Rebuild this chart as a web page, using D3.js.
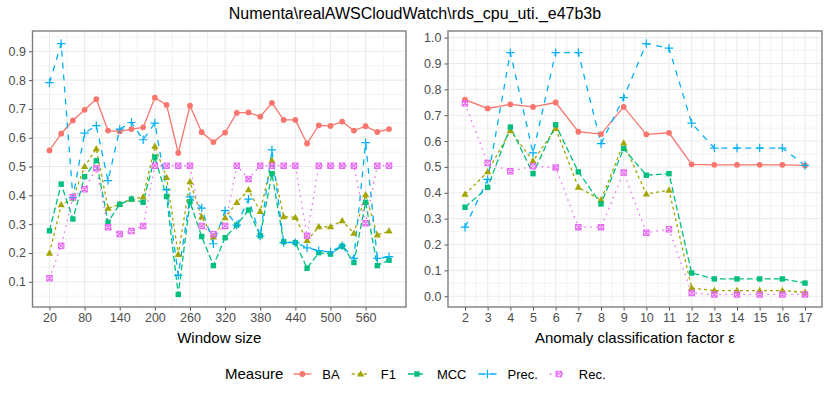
<!DOCTYPE html>
<html lang="en">
<head>
  <meta charset="UTF-8">
  <title>rds_cpu_uti._e47b3b</title>
  <script src="https://d3js.org/d3.v7.min.js"></script>
  <style>
    body { margin: 0; background: #fff; }
    svg { font-family: "Liberation Sans", Arial, sans-serif; }
    .tick-label { fill: #4d4d4d; font-size: 12.5px; }
    .axis-title { fill: #000; font-size: 15px; }
  </style>
</head>
<body>
  <div id="chart"></div>
  <script>
    const width = 830;
    const height = 394;

    // measures (legend order)
    const measures = ["BA", "F1", "MCC", "Prec.", "Rec."];

    // left panel: window size
    const windowSizes = [20, 40, 60, 80, 100, 120, 140, 160, 180, 200, 220, 240, 260, 280, 300,
                         320, 340, 360, 380, 400, 420, 440, 460, 480, 500, 520, 540, 560, 580, 600];
    const windowTicks = [20, 80, 140, 200, 260, 320, 380, 440, 500, 560];
    const baWindow   = [0.556, 0.614, 0.660, 0.697, 0.734, 0.625, 0.622, 0.630, 0.636, 0.739, 0.714, 0.547, 0.711, 0.619, 0.585,
                        0.618, 0.686, 0.688, 0.673, 0.721, 0.662, 0.662, 0.580, 0.643, 0.641, 0.656, 0.625, 0.640, 0.620, 0.630];
    const f1Window   = [0.199, 0.367, 0.390, 0.500, 0.562, 0.355, 0.369, 0.387, 0.394, 0.570, 0.462, 0.195, 0.447, 0.325, 0.255,
                        0.322, 0.375, 0.419, 0.344, 0.521, 0.326, 0.323, 0.243, 0.291, 0.291, 0.312, 0.268, 0.402, 0.262, 0.276];
    const mccWindow  = [0.277, 0.439, 0.318, 0.465, 0.520, 0.307, 0.369, 0.387, 0.376, 0.533, 0.396, 0.056, 0.378, 0.257, 0.156,
                        0.253, 0.297, 0.349, 0.260, 0.475, 0.239, 0.236, 0.147, 0.201, 0.196, 0.224, 0.167, 0.376, 0.156, 0.175];
    const precWindow = [0.791, 0.927, 0.392, 0.616, 0.642, 0.451, 0.630, 0.653, 0.593, 0.651, 0.420, 0.122, 0.395, 0.356, 0.232,
                        0.347, 0.297, 0.387, 0.259, 0.558, 0.236, 0.236, 0.218, 0.208, 0.204, 0.225, 0.181, 0.583, 0.181, 0.187];
    const recWindow  = [0.112, 0.225, 0.394, 0.421, 0.494, 0.289, 0.266, 0.276, 0.294, 0.503, 0.503, 0.503, 0.503, 0.294, 0.265,
                        0.294, 0.503, 0.457, 0.503, 0.503, 0.503, 0.503, 0.260, 0.503, 0.503, 0.503, 0.503, 0.303, 0.503, 0.503];
    const windowYTicks = [0.1, 0.2, 0.3, 0.4, 0.5, 0.6, 0.7, 0.8, 0.9];

    // right panel: anomaly classification factor
    const factors = [2, 3, 4, 5, 6, 7, 8, 9, 10, 11, 12, 13, 14, 15, 16, 17];
    const baFactor   = [0.760, 0.726, 0.742, 0.732, 0.749, 0.636, 0.627, 0.732, 0.626, 0.632, 0.510, 0.508, 0.508, 0.508, 0.508, 0.506];
    const f1Factor   = [0.394, 0.481, 0.640, 0.523, 0.648, 0.421, 0.372, 0.592, 0.395, 0.410, 0.032, 0.022, 0.022, 0.022, 0.022, 0.015];
    const mccFactor  = [0.344, 0.421, 0.654, 0.474, 0.663, 0.481, 0.357, 0.571, 0.468, 0.474, 0.090, 0.067, 0.067, 0.067, 0.067, 0.051];
    const precFactor = [0.267, 0.452, 0.942, 0.554, 0.942, 0.942, 0.590, 0.768, 0.977, 0.959, 0.669, 0.573, 0.573, 0.573, 0.573, 0.506];
    const recFactor  = [0.746, 0.515, 0.483, 0.503, 0.498, 0.267, 0.267, 0.478, 0.246, 0.259, 0.013, 0.007, 0.007, 0.007, 0.007, 0.007];
    const factorYTicks = [0.0, 0.1, 0.2, 0.3, 0.4, 0.5, 0.6, 0.7, 0.8, 0.9, 1.0];

    // ggplot default hue palette, linetypes and shapes
    const color = d3.scaleOrdinal(measures, ["#F8766D", "#A3A500", "#00BF7D", "#00B0F6", "#E76BF3"]);
    const dashes = { "BA": null, "F1": "3,3", "MCC": "6,3", "Prec.": "6,6", "Rec.": "1.5,4.5" };
    const shapes = { "BA": "circle", "F1": "triangle", "MCC": "square", "Prec.": "plus", "Rec.": "squarecross" };

    const svg = d3.select("#chart").append("svg")
      .attr("width", width)
      .attr("height", height);

    svg.append("text")
      .attr("x", 415).attr("y", 19)
      .attr("text-anchor", "middle")
      .style("font-size", "16px")
      .text("Numenta\\realAWSCloudWatch\\rds_cpu_uti._e47b3b");

    function expand(lo, hi) {
      const pad = (hi - lo) * 0.05;
      return [lo - pad, hi + pad];
    }

    function drawMarker(g, shape, x, y, c) {
      if (shape === "circle") {
        g.append("circle").attr("cx", x).attr("cy", y).attr("r", 2.9).attr("fill", c);
      } else if (shape === "triangle") {
        const s = 3.8;
        g.append("path")
          .attr("d", `M${x},${y - s}L${x + s * 0.95},${y + s * 0.65}L${x - s * 0.95},${y + s * 0.65}Z`)
          .attr("fill", c);
      } else if (shape === "square") {
        g.append("rect").attr("x", x - 2.7).attr("y", y - 2.7).attr("width", 5.4).attr("height", 5.4).attr("fill", c);
      } else if (shape === "plus") {
        g.append("path")
          .attr("d", `M${x - 4.2},${y}H${x + 4.2}M${x},${y - 4.2}V${y + 4.2}`)
          .attr("stroke", c).attr("stroke-width", 1.2).attr("fill", "none");
      } else {
        const s = 2.7;
        g.append("path")
          .attr("d", `M${x - s},${y - s}H${x + s}V${y + s}H${x - s}ZM${x - s},${y - s}L${x + s},${y + s}M${x + s},${y - s}L${x - s},${y + s}`)
          .attr("stroke", c).attr("stroke-width", 1.1).attr("fill", "none");
      }
    }

    function drawPanel(p) {
      const x = d3.scaleLinear().domain(expand(d3.min(p.xs), d3.max(p.xs))).range([p.left, p.right]);
      const all = p.series.flat();
      const y = d3.scaleLinear().domain(expand(d3.min(all), d3.max(all))).range([p.bottom, p.top]);
      const g = svg.append("g");

      // minor grid: midpoints between major breaks
      const xStep = p.xTicks[1] - p.xTicks[0];
      const xMinor = d3.range(p.xTicks[0] - xStep / 2, p.xTicks[p.xTicks.length - 1] + xStep, xStep)
        .filter(v => v > x.domain()[0] && v < x.domain()[1]);
      const yStep = 0.1;
      const yMinor = d3.range(p.yTicks[0] - yStep / 2, p.yTicks[p.yTicks.length - 1] + yStep, yStep)
        .filter(v => v > y.domain()[0] && v < y.domain()[1]);

      g.selectAll(".xminor").data(xMinor).enter().append("line")
        .attr("x1", d => x(d)).attr("x2", d => x(d)).attr("y1", p.top).attr("y2", p.bottom)
        .attr("stroke", "#ebebeb").attr("stroke-width", 0.6);
      g.selectAll(".yminor").data(yMinor).enter().append("line")
        .attr("y1", d => y(d)).attr("y2", d => y(d)).attr("x1", p.left).attr("x2", p.right)
        .attr("stroke", "#ebebeb").attr("stroke-width", 0.6);
      g.selectAll(".xmajor").data(p.xTicks).enter().append("line")
        .attr("x1", d => x(d)).attr("x2", d => x(d)).attr("y1", p.top).attr("y2", p.bottom)
        .attr("stroke", "#ebebeb").attr("stroke-width", 1.1);
      g.selectAll(".ymajor").data(p.yTicks).enter().append("line")
        .attr("y1", d => y(d)).attr("y2", d => y(d)).attr("x1", p.left).attr("x2", p.right)
        .attr("stroke", "#ebebeb").attr("stroke-width", 1.1);

      // axes
      const xAxis = g.append("g").attr("transform", `translate(0,${p.bottom})`)
        .call(d3.axisBottom(x).tickValues(p.xTicks).tickSize(3.5).tickPadding(3).tickFormat(d3.format("d")));
      const yAxis = g.append("g").attr("transform", `translate(${p.left},0)`)
        .call(d3.axisLeft(y).tickValues(p.yTicks).tickSize(3.5).tickPadding(3).tickFormat(d3.format(".1f")));
      [xAxis, yAxis].forEach(a => {
        a.select(".domain").remove();
        a.selectAll(".tick line").attr("stroke", "#555").attr("stroke-width", 1);
        a.selectAll(".tick text").attr("class", "tick-label").attr("fill", null)
          .style("font-family", "Liberation Sans, Arial, sans-serif").style("font-size", "12.5px");
      });

      g.append("rect")
        .attr("x", p.left).attr("y", p.top)
        .attr("width", p.right - p.left).attr("height", p.bottom - p.top)
        .attr("fill", "none").attr("stroke", "#7f7f7f").attr("stroke-width", 1.4);

      g.append("text").attr("class", "axis-title")
        .attr("x", (p.left + p.right) / 2).attr("y", 343)
        .attr("text-anchor", "middle")
        .text(p.xTitle);

      const line = d3.line().x(d => x(d[0])).y(d => y(d[1]));
      measures.forEach((m, i) => {
        g.append("path")
          .datum(p.xs.map((v, j) => [v, p.series[i][j]]))
          .attr("d", line)
          .attr("fill", "none")
          .attr("stroke", color(m))
          .attr("stroke-width", 1.3)
          .attr("stroke-dasharray", dashes[m]);
      });
      measures.forEach((m, i) => {
        const pg = g.append("g");
        p.xs.forEach((v, j) => drawMarker(pg, shapes[m], x(v), y(p.series[i][j]), color(m)));
      });
    }

    drawPanel({
      left: 32.5, right: 406, top: 31, bottom: 307,
      xs: windowSizes, xTicks: windowTicks, yTicks: windowYTicks,
      series: [baWindow, f1Window, mccWindow, precWindow, recWindow],
      xTitle: "Window size"
    });
    drawPanel({
      left: 448, right: 822, top: 31, bottom: 307,
      xs: factors, xTicks: factors, yTicks: factorYTicks,
      series: [baFactor, f1Factor, mccFactor, precFactor, recFactor],
      xTitle: "Anomaly classification factor ε"
    });

    // legend
    const legend = svg.append("g");
    const ly = 374;
    const title = legend.append("text")
      .attr("x", 0).attr("y", ly + 5)
      .style("font-size", "15px")
      .text("Measure");
    let cx = title.node().getComputedTextLength() + 9;
    measures.forEach(m => {
      legend.append("line")
        .attr("x1", cx + 1).attr("x2", cx + 19).attr("y1", ly).attr("y2", ly)
        .attr("stroke", color(m)).attr("stroke-width", 1.3)
        .attr("stroke-dasharray", dashes[m]);
      drawMarker(legend, shapes[m], cx + 10, ly, color(m));
      const t = legend.append("text")
        .attr("x", cx + 30).attr("y", ly + 4.5)
        .style("font-size", "13px")
        .text(m);
      cx += 30 + t.node().getComputedTextLength() + 11;
    });
    legend.attr("transform", `translate(225,0)`);
  </script>
</body>
</html>
